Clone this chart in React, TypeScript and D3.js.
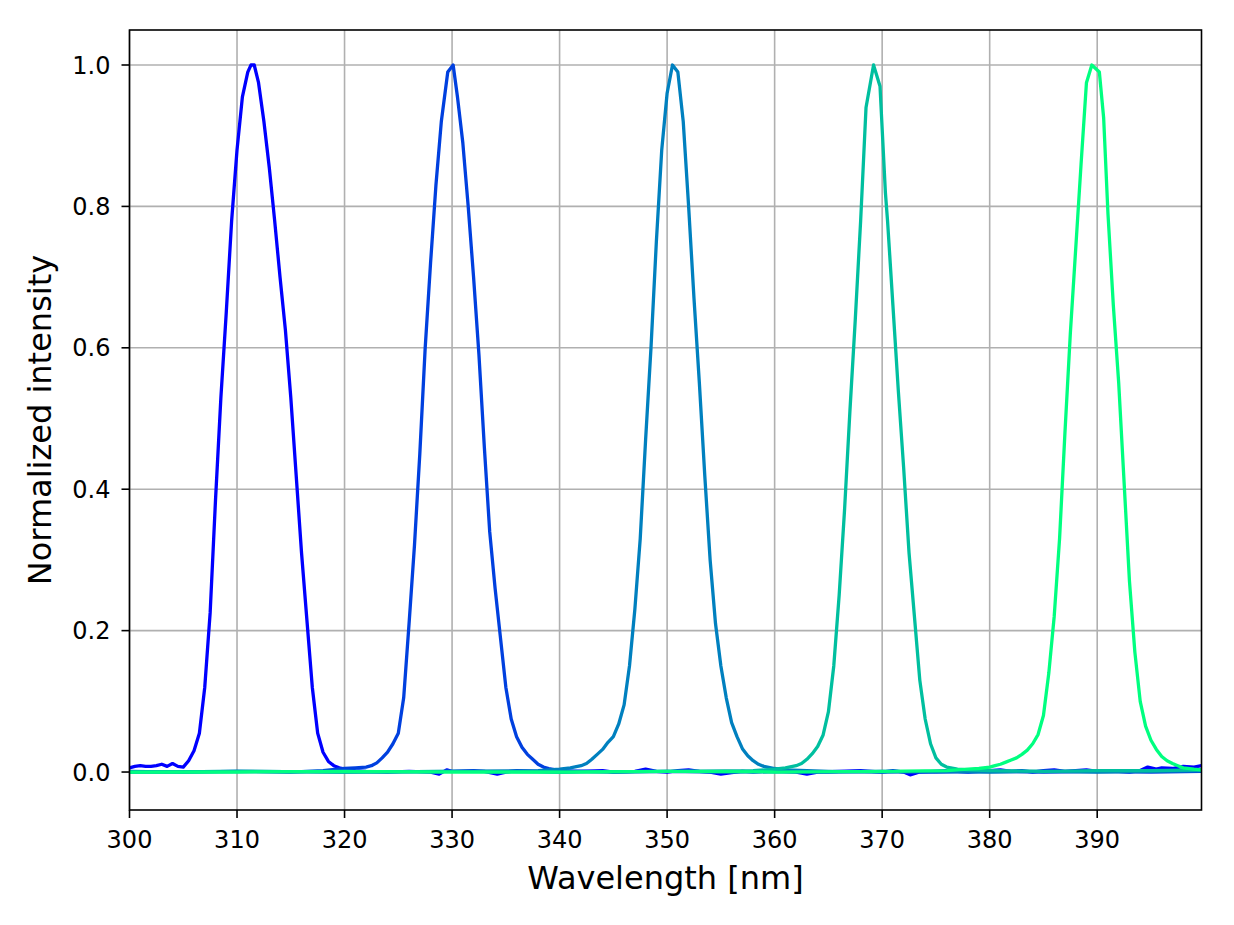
import React from "react";
import * as d3 from "d3";

// ---- data (wavelength nm, normalized intensity) ----
const peak311: [number, number][] = [
  [300, 0.006], [300.5, 0.008], [301, 0.009], [301.5, 0.008], [302, 0.008], [302.5, 0.009],
  [303, 0.011], [303.5, 0.008], [304, 0.012], [304.5, 0.008], [305, 0.007], [305.5, 0.016],
  [306, 0.03], [306.5, 0.055], [307, 0.12], [307.5, 0.225], [308, 0.385], [308.5, 0.53],
  [309, 0.65], [309.5, 0.78], [310, 0.88], [310.5, 0.955], [311, 0.99], [311.3, 1.0],
  [311.6, 1.0], [312, 0.975], [312.5, 0.92], [313, 0.855], [313.5, 0.78], [314, 0.7],
  [314.5, 0.625], [315, 0.53], [315.5, 0.42], [316, 0.31], [316.5, 0.215], [317, 0.12],
  [317.5, 0.055], [318, 0.028], [318.5, 0.015], [319, 0.009], [319.5, 0.006], [320, 0.004],
  [321, 0.002], [322, 0.001], [324, 0.0], [326, 0.001], [328, 0.0], [328.8, -0.003],
  [329.5, 0.003], [330, 0.001], [332, 0.002], [333, 0.001], [334.2, -0.003], [335, 0.0],
  [336, 0.002], [338, 0.001], [340, 0.0], [342, 0.001], [344, 0.002], [345, 0.0],
  [347, 0.001], [348, 0.004], [349, 0.001], [350, 0.0], [351, 0.002], [352, 0.003],
  [353, 0.001], [354, 0.0], [355, -0.003], [356, -0.001], [357, 0.001], [358, 0.0],
  [360, 0.001], [362, 0.0], [363, -0.003], [364, 0.0], [366, 0.001], [368, 0.002],
  [370, 0.0], [371, 0.002], [372, 0.0], [372.6, -0.004], [373.5, 0.0], [375, 0.001],
  [376, 0.002], [378, 0.0], [379, 0.001], [380, 0.002], [381, 0.003], [382, 0.001],
  [383, 0.002], [384, 0.0], [385, 0.002], [386, 0.003], [387, 0.001], [388, 0.002],
  [389, 0.003], [390, 0.001], [391, 0.002], [392, 0.001], [393, 0.0], [394, 0.002],
  [394.7, 0.007], [395.5, 0.004], [396, 0.006], [397, 0.005], [398, 0.008], [399, 0.007],
  [399.7, 0.009],
];

const peak330: [number, number][] = [
  [300, 0.001], [305, 0.0], [310, 0.001], [315, 0.0], [318, 0.002], [320, 0.005],
  [321, 0.006], [322, 0.007], [322.5, 0.009], [323, 0.013], [323.5, 0.02], [324, 0.028],
  [324.5, 0.04], [325, 0.055], [325.5, 0.105], [326, 0.21], [326.5, 0.32], [327, 0.45],
  [327.5, 0.6], [328, 0.72], [328.5, 0.83], [329, 0.92], [329.6, 0.99], [330.1, 1.0],
  [330.5, 0.955], [331, 0.89], [331.5, 0.8], [332, 0.7], [332.5, 0.59], [333, 0.46],
  [333.5, 0.34], [334, 0.26], [334.5, 0.19], [335, 0.12], [335.5, 0.075], [336, 0.05],
  [336.5, 0.035], [337, 0.025], [337.5, 0.018], [338, 0.011], [338.5, 0.007], [339, 0.005],
  [340, 0.002], [345, 0.0], [350, 0.001], [355, 0.0], [360, 0.001], [365, 0.0],
  [370, 0.001], [375, 0.0], [380, 0.001], [385, 0.0], [390, 0.001], [395, 0.0],
  [399.7, 0.001],
];

const peak350: [number, number][] = [
  [300, 0.0], [310, 0.001], [320, 0.0], [330, 0.001], [338, 0.002], [340, 0.004],
  [341, 0.006], [342, 0.009], [342.5, 0.012], [343, 0.018], [343.5, 0.025], [344, 0.032],
  [344.5, 0.042], [345, 0.05], [345.5, 0.068], [346, 0.095], [346.5, 0.15], [347, 0.23],
  [347.5, 0.33], [348, 0.47], [348.5, 0.6], [349, 0.75], [349.5, 0.88], [350, 0.96],
  [350.5, 1.0], [351, 0.99], [351.5, 0.92], [352, 0.8], [352.5, 0.67], [353, 0.55],
  [353.5, 0.42], [354, 0.3], [354.5, 0.21], [355, 0.15], [355.5, 0.105], [356, 0.07],
  [356.5, 0.05], [357, 0.033], [357.5, 0.023], [358, 0.016], [358.5, 0.011], [359, 0.008],
  [360, 0.005], [361, 0.003], [365, 0.001], [370, 0.0], [375, 0.001], [380, 0.0],
  [385, 0.001], [390, 0.0], [395, 0.001], [399.7, 0.002],
];

const peak369: [number, number][] = [
  [300, 0.0], [310, 0.001], [320, 0.0], [330, 0.001], [340, 0.0], [350, 0.001],
  [358, 0.002], [360, 0.004], [361, 0.006], [362, 0.009], [362.5, 0.012], [363, 0.018],
  [363.5, 0.026], [364, 0.036], [364.5, 0.052], [365, 0.085], [365.5, 0.15], [366, 0.25],
  [366.5, 0.37], [367, 0.51], [367.5, 0.64], [368, 0.78], [368.5, 0.94], [369.2, 1.0],
  [369.8, 0.97], [370.3, 0.82], [370.5, 0.78], [371, 0.66], [371.5, 0.54], [372, 0.43],
  [372.5, 0.31], [373, 0.22], [373.5, 0.13], [374, 0.075], [374.5, 0.04], [375, 0.02],
  [375.5, 0.011], [376, 0.007], [377, 0.004], [378, 0.003], [380, 0.002], [385, 0.001],
  [390, 0.002], [395, 0.002], [399.7, 0.003],
];

const peak390: [number, number][] = [
  [300, 0.0], [310, 0.0], [320, 0.001], [330, 0.0], [340, 0.0], [350, 0.001],
  [360, 0.0], [370, 0.001], [376, 0.002], [378, 0.004], [379, 0.005], [380, 0.007],
  [380.5, 0.009], [381, 0.011], [381.5, 0.014], [382, 0.017], [382.5, 0.02], [383, 0.025],
  [383.5, 0.031], [384, 0.04], [384.5, 0.053], [385, 0.08], [385.5, 0.14], [386, 0.22],
  [386.5, 0.33], [387, 0.48], [387.5, 0.62], [388, 0.74], [388.5, 0.86], [389, 0.975],
  [389.5, 1.0], [390.2, 0.99], [390.6, 0.925], [391, 0.79], [391.5, 0.66], [392, 0.55],
  [392.5, 0.41], [393, 0.27], [393.5, 0.17], [394, 0.1], [394.5, 0.065], [395, 0.045],
  [395.5, 0.032], [396, 0.022], [396.5, 0.016], [397, 0.012], [397.5, 0.009], [398, 0.006],
  [399, 0.004], [399.7, 0.003],
];

const seriesList = [peak311, peak330, peak350, peak369, peak390];
const seriesColors = ["#0000ff", "#0040df", "#0080bf", "#00bf9f", "#00ff80"];
const xTicks = [300, 310, 320, 330, 340, 350, 360, 370, 380, 390];
const yTicks = [0.0, 0.2, 0.4, 0.6, 0.8, 1.0];
const xLabel = "Wavelength [nm]";
const yLabel = "Normalized intensity";

const W = 1234;
const H = 925;
const M = { left: 129.5, right: 1201.5, top: 30, bottom: 810 };

export default function App() {
  const x = d3.scaleLinear().domain([300, 399.7]).range([M.left, M.right]);
  const y = d3.scaleLinear().domain([-0.0537, 1.0495]).range([M.bottom, M.top]);
  const line = d3
    .line<[number, number]>()
    .x((d) => x(d[0]))
    .y((d) => y(d[1]));
  const font = "DejaVu Sans, sans-serif";
  const fmt = d3.format(".1f");

  return (
    <svg
      width={W}
      height={H}
      style={{ position: "absolute", left: 0, top: 0, background: "#fff" }}
    >
      <rect x={0} y={0} width={W} height={H} fill="#fff" />
      <defs>
        <clipPath id="plot">
          <rect x={M.left} y={M.top} width={M.right - M.left} height={M.bottom - M.top} />
        </clipPath>
      </defs>
      {/* grid */}
      <g stroke="#b0b0b0" strokeWidth={1.6}>
        {xTicks.map((t) => (
          <line key={"gx" + t} x1={x(t)} x2={x(t)} y1={M.top} y2={M.bottom} />
        ))}
        {yTicks.map((t) => (
          <line key={"gy" + t} x1={M.left} x2={M.right} y1={y(t)} y2={y(t)} />
        ))}
      </g>
      {/* series */}
      <g clipPath="url(#plot)" fill="none" strokeWidth={3.3} strokeLinejoin="round" strokeLinecap="butt">
        {seriesList.map((s, i) => (
          <path key={i} d={line(s) || ""} stroke={seriesColors[i]} />
        ))}
      </g>
      {/* frame */}
      <rect
        x={M.left}
        y={M.top}
        width={M.right - M.left}
        height={M.bottom - M.top}
        fill="none"
        stroke="#000"
        strokeWidth={1.6}
      />
      {/* x ticks */}
      <g>
        {xTicks.map((t) => (
          <g key={"xt" + t}>
            <line x1={x(t)} x2={x(t)} y1={M.bottom} y2={M.bottom + 8} stroke="#000" strokeWidth={1.6} />
            <text
              x={x(t)}
              y={M.bottom + 38}
              textAnchor="middle"
              fontFamily={font}
              fontSize={24}
              fill="#000"
            >
              {t}
            </text>
          </g>
        ))}
      </g>
      {/* y ticks */}
      <g>
        {yTicks.map((t) => (
          <g key={"yt" + t}>
            <line x1={M.left - 8} x2={M.left} y1={y(t)} y2={y(t)} stroke="#000" strokeWidth={1.6} />
            <text
              x={M.left - 19}
              y={y(t)}
              dy="0.36em"
              textAnchor="end"
              fontFamily={font}
              fontSize={24}
              fill="#000"
            >
              {fmt(t)}
            </text>
          </g>
        ))}
      </g>
      <text
        x={(M.left + M.right) / 2}
        y={889}
        textAnchor="middle"
        fontFamily={font}
        fontSize={32}
        fill="#000"
      >
        {xLabel}
      </text>
      <text
        transform={`translate(51, ${(M.top + M.bottom) / 2}) rotate(-90)`}
        textAnchor="middle"
        fontFamily={font}
        fontSize={32}
        fill="#000"
      >
        {yLabel}
      </text>
    </svg>
  );
}
